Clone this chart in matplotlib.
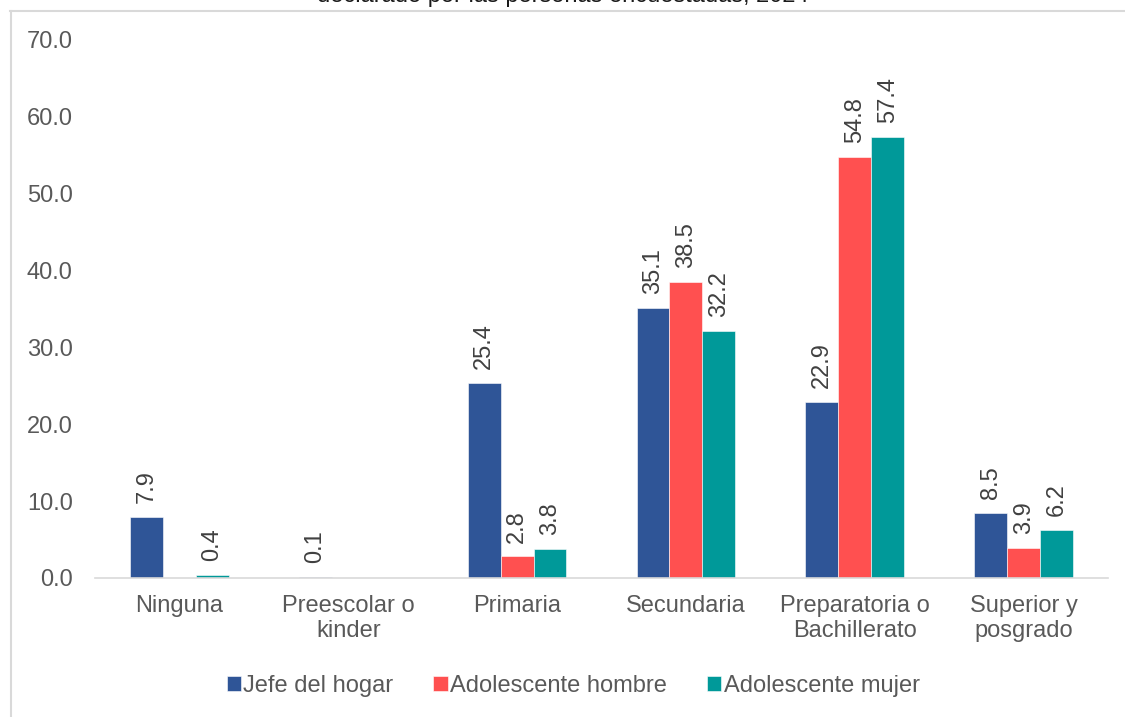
import numpy as np
import matplotlib.pyplot as plt
from matplotlib.lines import Line2D

categories = ["Ninguna", "Preescolar o\nkinder", "Primaria", "Secundaria",
              "Preparatoria o\nBachillerato", "Superior y\nposgrado"]
jefe = [7.9, 0.1, 25.4, 35.1, 22.9, 8.5]
hombre = [np.nan, np.nan, 2.8, 38.5, 54.8, 3.9]
mujer = [0.4, np.nan, 3.8, 32.2, 57.4, 6.2]
series_names = ["Jefe del hogar", "Adolescente hombre", "Adolescente mujer"]
colors = ["#2F5597", "#FF5050", "#009999"]
title = "declarado por las personas encuestadas, 2024"

plt.rcParams['font.family'] = ['Liberation Sans', 'DejaVu Sans']

fig = plt.figure(figsize=(11.25, 7.17), dpi=100)
ax = fig.add_axes([95 / 1125, 1 - 578 / 717, 1013 / 1125, 538 / 717])

x = np.arange(len(categories))
w = 0.195
for i, (vals, name, c) in enumerate(zip([jefe, hombre, mujer], series_names, colors)):
    pos = x + (i - 1) * w
    v = np.array(vals, dtype=float)
    ax.bar(pos, np.nan_to_num(v), w, color=c, label=name,
           edgecolor="white", linewidth=0.4)
    for p, val in zip(pos, v):
        if np.isnan(val):
            continue
        ax.annotate(f"{val:.1f}", (p, val), xytext=(0, 10), textcoords="offset points",
                    rotation=90, ha="center", va="bottom", fontsize=17, color="#404040")

ax.set_xlim(-0.5, len(categories) - 0.5)
ax.set_ylim(0, 70)
ax.set_yticks(np.arange(0, 71, 10))
ax.set_yticklabels([f"{t:.1f}" for t in np.arange(0, 71, 10)])
ax.set_xticks(x)
ax.set_xticklabels(categories)
ax.tick_params(axis="y", length=0, pad=16, labelsize=17, labelcolor="#595959")
ax.tick_params(axis="x", length=0, pad=12, labelsize=17, labelcolor="#595959")
for s in ["top", "right", "left"]:
    ax.spines[s].set_visible(False)
ax.spines["bottom"].set_color("#D9D9D9")
ax.spines["bottom"].set_linewidth(1.2)

ax.legend(loc="center", bbox_to_anchor=(0.472, (578 - 686) / 538), ncol=3, frameon=False,
          fontsize=17, labelcolor="#595959", handlelength=0.6, handleheight=0.6,
          handletextpad=0.1, columnspacing=1.7)

# cut-off title and chart border
fig.text(0.5, 1 + 3.5 / 717, title, ha="center", va="center", fontsize=17, color="#1a1a1a")
fig.add_artist(Line2D([10 / 1125, 1], [1 - 10.5 / 717] * 2, color="#D9D9D9", lw=1.5))
fig.add_artist(Line2D([10.5 / 1125] * 2, [0, 1 - 10.5 / 717], color="#D9D9D9", lw=1.5))

fig.savefig("out.png", dpi=100)
